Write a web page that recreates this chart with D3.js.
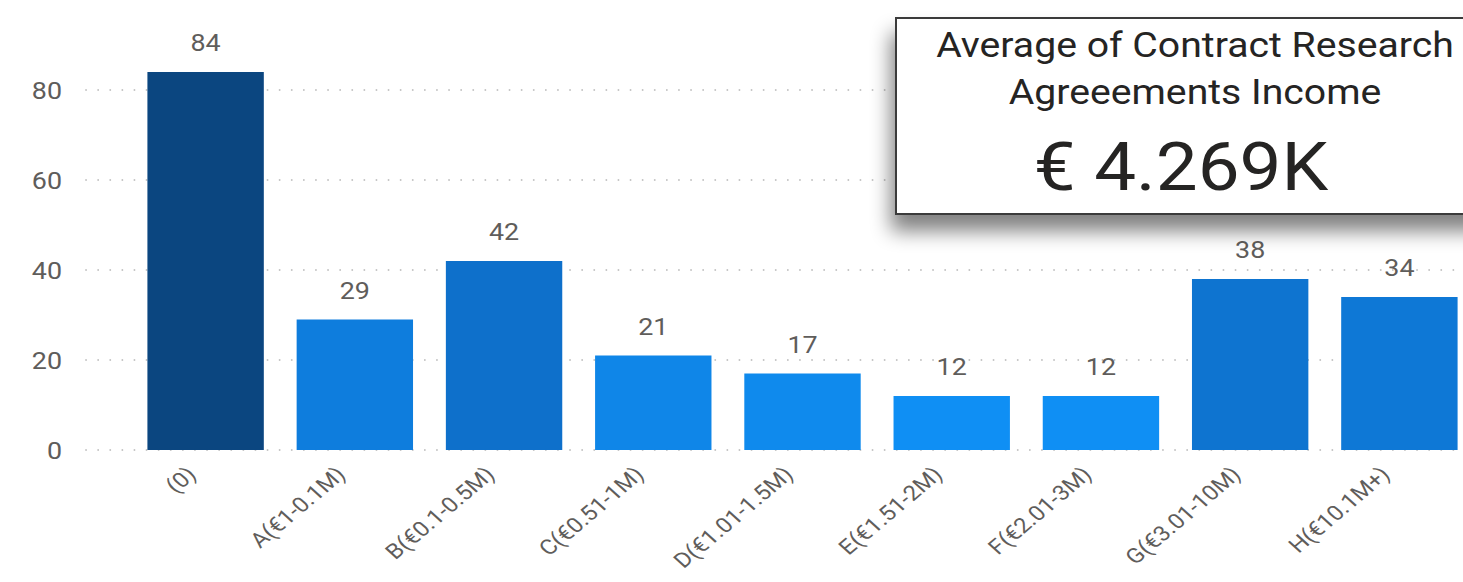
<!DOCTYPE html>
<html>
<head>
<meta charset="utf-8">
<script src="https://cdn.jsdelivr.net/npm/d3@7"></script>
<style>
  html, body { margin: 0; padding: 0; background: #ffffff; }
  svg { display: block; }
</style>
</head>
<body>
<svg id="chart" width="1463" height="582"></svg>
<script>
// Income bands and number of institutions in each band
const categories = ["(0)", "A(€1-0.1M)", "B(€0.1-0.5M)", "C(€0.51-1M)", "D(€1.01-1.5M)",
                    "E(€1.51-2M)", "F(€2.01-3M)", "G(€3.01-10M)", "H(€10.1M+)"];
const counts = [84, 29, 42, 21, 17, 12, 12, 38, 34];
const yTicks = [0, 20, 40, 60, 80];

// KPI card
const cardTitle = ["Average of Contract Research", "Agreeements Income"];
const cardValue = "€ 4.269K";

const svg = d3.select("#chart");
const W = 1463, H = 582;
const SX = 1.12;           // horizontal widening applied to the label glyphs
const font = "Roboto, 'Open Sans', sans-serif";
const labelColor = "#5f5d5b";

const x = d3.scaleBand()
  .domain(categories)
  .range([131, 1474])
  .paddingInner(0.22)
  .paddingOuter(0.11);

const y = d3.scaleLinear()
  .domain([0, 80])
  .range([450, 90]);

// bar shading follows the count
const color = d3.scaleLinear()
  .domain([12, 42, 84])
  .range(["#0f8ff4", "#0e70cb", "#0b4680"]);

// dotted gridlines
svg.append("g")
  .selectAll("line")
  .data(yTicks)
  .join("line")
  .attr("x1", 86)
  .attr("x2", W)
  .attr("y1", d => y(d))
  .attr("y2", d => y(d))
  .attr("stroke", "#c4c4c4")
  .attr("stroke-width", 1.8)
  .attr("stroke-linecap", "round")
  .attr("stroke-dasharray", "0.1 12");

// y axis labels
const yAxis = d3.axisLeft(y).tickValues(yTicks).tickSize(0).tickPadding(0);
const gy = svg.append("g")
  .attr("transform", "translate(62,0)")
  .call(yAxis);
gy.select(".domain").remove();
gy.selectAll("text")
  .attr("x", 0)
  .attr("dy", "0.36em")
  .attr("transform", `scale(${SX},1)`)
  .attr("fill", labelColor)
  .style("font-family", font)
  .style("font-size", "24px");

// bars
svg.append("g")
  .selectAll("rect")
  .data(counts)
  .join("rect")
  .attr("x", (d, i) => x(categories[i]))
  .attr("y", d => y(d))
  .attr("width", x.bandwidth())
  .attr("height", d => y(0) - y(d))
  .attr("fill", d => color(d));

// value labels above bars
svg.append("g")
  .selectAll("text")
  .data(counts)
  .join("text")
  .attr("transform", (d, i) =>
    `translate(${x(categories[i]) + x.bandwidth() / 2},${y(d) - 21}) scale(${SX},1)`)
  .attr("text-anchor", "middle")
  .attr("fill", labelColor)
  .style("font-family", font)
  .style("font-size", "24px")
  .text(d => d);

// x axis labels, rotated
const xAxis = d3.axisBottom(x).tickSize(0).tickPadding(0);
const gx = svg.append("g").call(xAxis);
gx.select(".domain").remove();
gx.selectAll(".tick")
  .attr("transform", d => `translate(${x(d) + x.bandwidth() / 2 - 8},476)`);
gx.selectAll("text")
  .attr("x", 0)
  .attr("y", 0)
  .attr("dy", 0)
  .attr("text-anchor", "end")
  .attr("transform", `scale(1.15,1) rotate(-44)`)
  .attr("fill", labelColor)
  .style("font-family", font)
  .style("font-size", "21px");

// KPI card with drop shadow
const defs = svg.append("defs");
const f = defs.append("filter")
  .attr("id", "cardShadow")
  .attr("x", "-20%").attr("y", "-20%")
  .attr("width", "140%").attr("height", "170%");
f.append("feGaussianBlur").attr("in", "SourceAlpha").attr("stdDeviation", 10);
f.append("feOffset").attr("dx", -4).attr("dy", 16).attr("result", "off");
f.append("feComponentTransfer").append("feFuncA").attr("type", "linear").attr("slope", 0.5);
const m = f.append("feMerge");
m.append("feMergeNode");
m.append("feMergeNode").attr("in", "SourceGraphic");

const card = svg.append("g");
card.append("rect")
  .attr("x", 896)
  .attr("y", 18)
  .attr("width", 620)
  .attr("height", 196)
  .attr("fill", "#ffffff")
  .attr("stroke", "#3a3a3a")
  .attr("stroke-width", 2)
  .attr("filter", "url(#cardShadow)");

const cx = 1195;
card.selectAll("text.title")
  .data(cardTitle)
  .join("text")
  .attr("class", "title")
  .attr("transform", (d, i) => `translate(${cx},${57 + i * 47}) scale(1.12,1)`)
  .attr("text-anchor", "middle")
  .attr("fill", "#252423")
  .style("font-family", "Roboto, sans-serif")
  .style("font-size", "35px")
  .text(d => d);

card.append("text")
  .attr("transform", `translate(${cx - 14},190) scale(1.13,1)`)
  .attr("text-anchor", "middle")
  .attr("fill", "#252423")
  .style("font-family", "Roboto, sans-serif")
  .style("font-size", "66px")
  .text(cardValue);
</script>
</body>
</html>
